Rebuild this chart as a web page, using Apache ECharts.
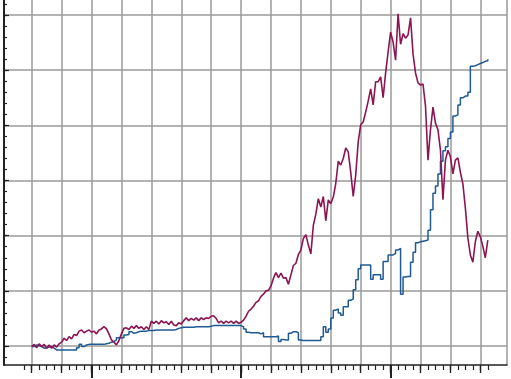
<!DOCTYPE html>
<html lang="en">
<head>
    <meta charset="UTF-8">
    <title>chart</title>
    <script src="https://cdn.jsdelivr.net/npm/echarts@6/dist/echarts.min.js"></script>
</head>
<body style="margin:0">
    <div id="main" style="width: 511px; height: 379px;"></div>
    <script>
        // one value per sample, x = sample index
        const red = [
            -0.1, 0.3, -0.3, 0.4, -0.1, 0.3, -0.4, 0.2, -0.4, 0.2,
            -0.2, 0.4, 0.7, 1.4, 1.0, 1.7, 1.3, 2.1, 1.9, 2.7,
            2.9, 2.4, 2.7, 2.9, 2.5, 2.7, 2.2, 2.9, 3.1, 3.5,
            3.1, 2.2, 1.1, 0.7, 0.2, 1.0, 2.2, 3.2, 3.3, 3.0,
            3.6, 3.2, 3.7, 3.2, 3.5, 3.0, 3.5, 3.0, 4.5, 4.1,
            4.5, 4.0, 4.6, 4.2, 4.4, 3.9, 4.5, 3.8, 3.7, 4.2,
            4.0, 4.6, 5.1, 4.6, 5.0, 4.7, 5.1, 4.6, 5.1, 4.8,
            5.1, 5.0, 5.4, 5.5, 5.0, 4.2, 4.5, 4.1, 4.5, 4.2,
            4.5, 4.1, 4.5, 4.1, 4.3, 4.7, 5.4, 6.3, 6.7, 7.2,
            7.9, 8.2, 9.0, 9.4, 10.0, 10.1, 10.9, 12.3, 13.3, 12.4,
            13.2, 12.3, 12.4, 11.2, 12.9, 14.6, 15.0, 16.6, 17.4, 19.5,
            20.2, 18.3, 16.7, 21.9, 23.9, 26.7, 25.2, 27.1, 22.7, 26.5,
            25.8, 27.0, 29.5, 33.5, 32.8, 34.0, 35.9, 35.2, 31.5, 27.1,
            31.0, 37.0, 40.1, 40.6, 42.4, 44.4, 46.6, 43.7, 47.9, 47.9,
            48.8, 45.0, 49.5, 53.3, 56.9, 55.1, 51.8, 60.2, 54.7, 56.6,
            55.8, 56.4, 59.5, 52.9, 49.5, 47.7, 47.3, 47.5, 43.5, 33.7,
            39.2, 43.3, 40.4, 39.2, 35.5, 26.5, 33.7, 35.5, 34.3, 31.2,
            33.7, 34.1, 31.5, 29.4, 25.0, 19.6, 16.5, 15.2, 18.9, 20.8,
            19.8, 18.1, 16.0, 19.2
        ];
        const blue = [
            -0.1, 0.2, 0.1, -0.1, -0.4, -0.3, -0.2, -0.1, -0.4, -0.7,
            -0.7, -0.7, -0.7, -0.7, -0.7, -0.7, -0.7, -0.7, -0.3, 0.3,
            -0.1, 0.2, 0.3, 0.3, 0.3, 0.3, 0.3, 0.3, 0.3, 0.4,
            0.5, 0.7, 0.8, 1.1, 1.5, 1.5, 1.5, 2.0, 2.1, 2.6,
            2.3, 2.4, 2.6, 2.7, 2.7, 2.7, 2.8, 2.8, 2.8, 2.9,
            2.9, 2.9, 2.9, 2.9, 2.9, 2.9, 2.9, 3.0, 3.2, 3.3,
            3.4, 3.4, 3.4, 3.4, 3.4, 3.5, 3.5, 3.5, 3.5, 3.5,
            3.5, 3.6, 3.7, 3.7, 3.7, 3.7, 3.7, 3.7, 3.7, 3.7,
            3.7, 3.7, 3.7, 3.7, 3.5, 3.1, 2.5, 2.4, 2.4, 2.4,
            2.4, 2.2, 2.4, 1.7, 1.7, 1.7, 1.7, 1.7, 1.8, 0.8,
            1.2, 1.1, 1.1, 2.3, 2.6, 2.6, 2.4, 1.1, 1.0, 1.0,
            1.0, 1.0, 1.0, 1.0, 1.0, 1.0, 1.7, 3.5, 2.5, 3.1,
            5.1, 6.5, 6.7, 6.0, 5.6, 7.1, 7.1, 8.3, 8.5, 10.2,
            12.0, 14.0, 14.7, 14.7, 14.7, 14.7, 12.1, 12.9, 12.9, 12.9,
            12.1, 15.3, 15.3, 16.5, 16.5, 16.8, 17.4, 17.7, 9.4, 12.5,
            12.6, 12.6, 15.2, 17.0, 18.7, 18.9, 19.0, 19.1, 19.2, 21.0,
            24.7, 27.7, 29.0, 31.2, 33.5, 35.4, 36.1, 37.6, 38.8, 41.7,
            41.9, 43.7, 45.0, 45.3, 45.3, 46.0, 50.7, 50.8, 51.0, 51.2,
            51.4, 51.6, 51.7, 52.0
        ];

        const xMin = -11.12, xMax = 190.7;
        const yMin = -3.44, yMax = 62.72;

        function steps(a, b, step) {
            const out = [];
            for (let v = a; v <= b + 1e-9; v += step) out.push(v);
            return out;
        }

        const xTicks = (values, len, width) => ({
            type: 'value', min: xMin, max: xMax, position: 'bottom',
            axisLine: { show: false, onZero: false }, axisLabel: { show: false }, splitLine: { show: false },
            axisTick: { show: true, customValues: values, length: len, lineStyle: { color: '#222', width: width } }
        });
        const yTicks = (values, len) => ({
            type: 'value', min: yMin, max: yMax, position: 'left',
            axisLine: { show: false, onZero: false }, axisLabel: { show: false }, splitLine: { show: false },
            axisTick: { show: true, inside: true, customValues: values, length: len, lineStyle: { color: '#222', width: 1.2 } }
        });

        const chart = echarts.init(document.getElementById('main'));
        chart.setOption({
            animation: false,
            backgroundColor: '#fff',
            grid: { left: 4, right: 4, top: 0, bottom: 14, containLabel: false, outerBoundsMode: 'none' },
            xAxis: [
                {
                    type: 'value', min: xMin, max: xMax, position: 'bottom',
                    axisLine: { show: true, onZero: false, lineStyle: { color: '#222', width: 1.5 } },
                    axisTick: { show: false, customValues: steps(0, 180, 12).concat([xMax]) },
                    axisLabel: { show: false },
                    splitLine: { show: true, lineStyle: { color: '#9a9a9a', width: 1.5 } }
                },
                xTicks(steps(-3, 183, 3), 5, 1.2),
                xTicks(steps(0, 180, 12), 8, 1.4),
                xTicks([24, 84, 144], 13, 2)
            ],
            yAxis: [
                {
                    type: 'value', min: yMin, max: yMax, position: 'left',
                    axisLine: { show: true, onZero: false, lineStyle: { color: '#222', width: 2 } },
                    axisTick: { show: false, customValues: steps(0, 60, 10) },
                    axisLabel: { show: false },
                    splitLine: { show: true, lineStyle: { color: '#9a9a9a', width: 1.5 } }
                },
                yTicks(steps(-2, 62, 2), 3),
                yTicks(steps(0, 60, 10), 5)
            ],
            series: [
                {
                    type: 'line', step: 'end', showSymbol: false,
                    data: blue.map((v, i) => [i, v]),
                    lineStyle: { color: '#1f5a94', width: 1.5 }
                },
                {
                    type: 'line', showSymbol: false,
                    data: red.map((v, i) => [i, v]),
                    lineStyle: { color: '#8c1552', width: 1.6 }
                }
            ]
        });
    </script>
</body>
</html>
